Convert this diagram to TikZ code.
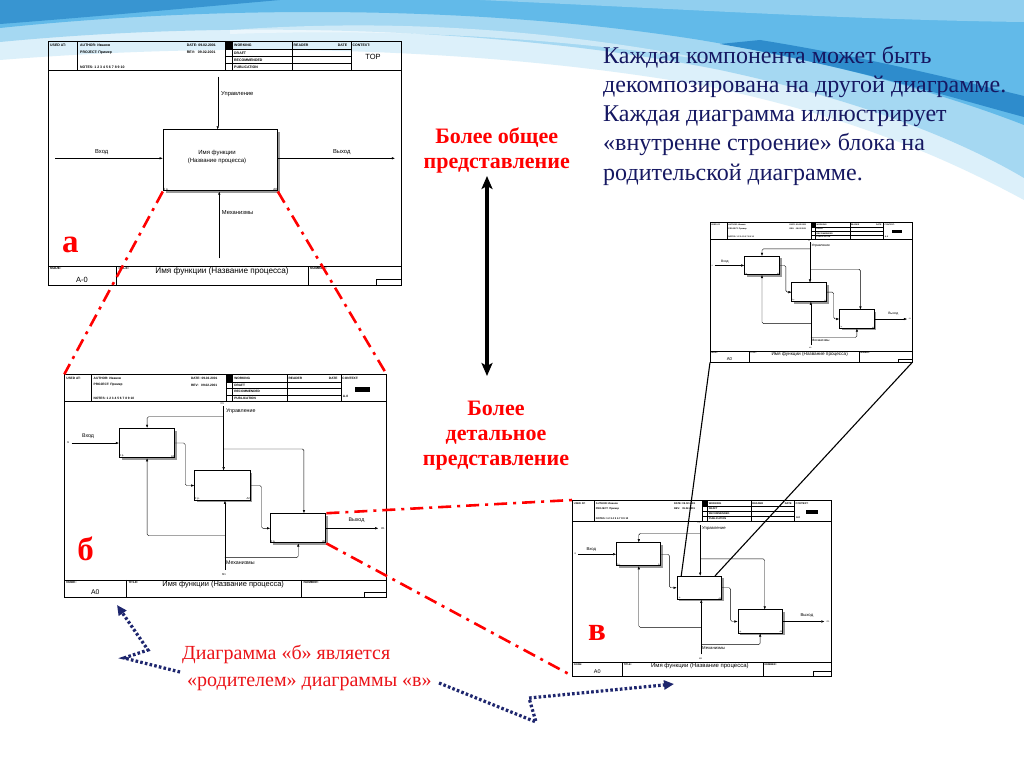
\documentclass[tikz,border=0pt]{standalone}
\usepackage{fontspec}
\setmainfont{Liberation Serif}
\setsansfont{Liberation Sans}
\usetikzlibrary{arrows.meta,shadows,calc}

\definecolor{navy}{RGB}{22,24,98}
\definecolor{dotnavy}{RGB}{30,38,110}
\definecolor{slred}{RGB}{235,20,25}
\definecolor{waveA}{RGB}{220,240,250}
\definecolor{waveB}{RGB}{165,216,242}
\definecolor{waveC}{RGB}{98,186,233}
\definecolor{waveD}{RGB}{46,140,204}

\tikzset{
  frameline/.style={line width=0.45pt},
  hdr/.style={font=\sffamily\bfseries\fontsize{3.5}{4}\selectfont, anchor=west, inner sep=0pt},
  ttl/.style={font=\sffamily\fontsize{8.2}{9}\selectfont, inner sep=0pt},
  num/.style={font=\sffamily\fontsize{7.5}{8}\selectfont, inner sep=0pt},
  lbl/.style={font=\sffamily\fontsize{5.8}{6}\selectfont, inner sep=0pt},
  tiny/.style={font=\sffamily\fontsize{3}{3}\selectfont, inner sep=0.5pt},
  fbox/.style={draw, line width=1pt, fill=white, minimum width=60.5, minimum height=32,
    drop shadow={shadow xshift=2.2pt, shadow yshift=-2.2pt, fill=black!40, opacity=1}},
  flow/.style={line width=0.4pt, rounded corners=1.5pt, -{Latex[length=3.2pt,width=2.4pt]}},
  letter/.style={text=red, font=\bfseries\fontsize{33}{33}\selectfont, inner sep=0pt, anchor=base},
  gentxt/.style={text=red, font=\bfseries\fontsize{22}{25}\selectfont, align=center, inner sep=0pt, anchor=base},
  desc/.style={text=navy, font=\fontsize{24}{29.2}\selectfont, align=left, inner sep=0pt, anchor=base west},
  parenttxt/.style={text=slred, font=\fontsize{20}{27}\selectfont, align=left, inner sep=0pt, anchor=base west},
  dashdot/.style={draw=red, line width=2.6pt, dash pattern=on 13pt off 6pt on 3pt off 6pt},
  parentarrow/.style={draw=dotnavy, line width=3.2pt, dash pattern=on 2.6pt off 2.2pt, -{Triangle[length=10pt,width=9pt]}},
  updown/.style={line width=3.6pt, {Stealth[length=13pt,width=11pt,inset=3pt]}-{Stealth[length=13pt,width=11pt,inset=3pt]}},
  zoomline/.style={line width=1.1pt}
}

% бланк IDEF0: #1 имя, #2 номер узла, #3 поле CONTEXT
\newcommand{\idefframe}[3]{%
  \draw[frameline] (0,0) rectangle (353,244);
  \draw[frameline] (0,29) -- (353,29) (0,225) -- (353,225);
  \foreach \hx in {29.7,177,184.3,244.3,303}
    \draw[frameline] (\hx,0) -- (\hx,29);
  \foreach \hy in {8.3,15.7,22.7}
    \draw[frameline] (177,\hy) -- (303,\hy);
  \fill (177,0) rectangle (184.3,8.3);
  \draw[frameline] (68,225) -- (68,244) (260,225) -- (260,244);
  \draw[frameline] (328.7,244) |- (353,238);
  \node[hdr] at (2,4.7) {USED AT:};
  \node[hdr] at (32,4.7) {AUTHOR: Иванов};
  \node[hdr] at (32,11.7) {PROJECT: Пример};
  \node[hdr] at (32,26) {NOTES: 1 2 3 4 5 6 7 8 9 10};
  \node[hdr] at (138.7,4.7) {DATE: 09.02.2001};
  \node[hdr] at (138.7,11.7) {REV: \ \ 09.02.2001};
  \node[hdr] at (186,4.7) {WORKING};
  \node[hdr] at (186,11.9) {DRAFT};
  \node[hdr] at (186,19.2) {RECOMMENDED};
  \node[hdr] at (186,26) {PUBLICATION};
  \node[hdr] at (245.5,4.7) {READER};
  \node[hdr] at (289.7,4.7) {DATE};
  \node[hdr] at (304.5,4.7) {CONTEXT:};
  \node[hdr] at (2,227.7) {NODE:};
  \node[hdr] at (70,227.7) {TITLE:};
  \node[hdr] at (262,227.7) {NUMBER:};
  #3
  \node[ttl] at (174,230.5) {Имя функции (Название процесса)};
  \node[num] at (34,238.5) {#2};
  \coordinate (#1nw) at (0,0);
  \coordinate (#1ne) at (353,0);
  \coordinate (#1sw) at (0,244);
  \coordinate (#1se) at (353,244);
}

% декомпозиция на три блока: #1 имя
\newcommand{\decomp}[1]{%
  \node[fbox] (#1b1) at (90.7,75.2) {};
  \node[fbox] (#1b2) at (173.2,121.7) {};
  \node[fbox] (#1b3) at (256.3,168.5) {};
  \foreach \bx in {1,2,3} {
    \node[tiny, anchor=south west] at (#1b\bx.south west) {0 р.};
    \node[tiny, anchor=south east] at (#1b\bx.south east) {A\bx};
  }
  % управление
  \coordinate (#1ctl) at (174.5,35);
  \coordinate (#1k1) at (174.5,46.4);
  \coordinate (#1k3) at (262.5,81.7);
  \draw[flow] (#1ctl) -- (#1ctl |- #1b2.north);
  \draw[flow] (#1k1) -| (#1b1.north);
  \draw[flow] (#1ctl |- #1k3) -| (#1k3 |- #1b3.north);
  % вход и выход
  \coordinate (#1in) at (8,75.2);
  \coordinate (#1out) at (344,168.5);
  \draw[flow] (#1in) -- (#1b1.west);
  \draw[flow] (#1b1.east) -- ++(11,0) |- (#1b2.west);
  \draw[flow] (#1b2.east) -- ++(12,0) |- (#1b3.west);
  \draw[flow] (#1b3.east) -- (#1out);
  % механизмы
  \coordinate (#1mech) at (176,214);
  \coordinate (#1m1) at (176,176.6);
  \coordinate (#1m3) at (176,200.6);
  \draw[flow] (#1mech) -- (#1mech |- #1b2.south);
  \draw[flow] (#1m1) -| (#1b1.south);
  \draw[flow] (#1m3) -| (#1b3.south);
  \node[lbl, anchor=west] at (177,40) {Управление};
  \node[lbl] at (26,68) {Вход};
  \node[lbl] at (320,160) {Выход};
  \node[lbl, anchor=west] at (177,206) {Механизмы};
  \node[tiny] at (173,32) {C1};
  \node[tiny] at (4,75.2) {I1};
  \node[tiny] at (349,168.5) {O1};
  \node[tiny] at (175,219.5) {M1};
}

\newcommand{\childctx}{%
  \fill (318.3,13.6) rectangle (334.7,19.1);
  \node[hdr] at (305,24.5) {A-0};
}

\begin{document}
\begin{tikzpicture}[x=1pt,y=-1pt]
\useasboundingbox (0,0) rectangle (1024,767);
% фон слайда
\fill[white] (0,0) rectangle (1024,767);
\fill[waveA] (0,0) -- (1024,0) -- (1024,200) .. controls (950,160) and (850,115) .. (700,85)
  .. controls (500,50) and (250,40) .. (0,60) -- cycle;
\fill[waveB] (0,0) -- (1024,0) -- (1024,178) .. controls (960,140) and (860,100) .. (720,70)
  .. controls (520,30) and (250,18) .. (0,42) -- cycle;
\fill[waveC] (0,0) -- (1024,0) -- (1024,125) .. controls (960,100) and (850,65) .. (700,40)
  .. controls (480,5) and (220,5) .. (0,28) -- cycle;
\fill[waveD] (720,44) .. controls (850,66) and (960,100) .. (1024,117) -- (1024,96)
  .. controls (950,78) and (860,56) .. (760,40) -- cycle;
\fill[waveD, opacity=.8] (0,0) -- (280,0) .. controls (190,8) and (80,18) .. (0,24) -- cycle;
\fill[waveB, opacity=.7] (480,0) -- (1024,0) -- (1024,22) .. controls (860,20) and (700,10) .. (480,0);
\fill[white, opacity=.45] (230,30) .. controls (400,18) and (560,30) .. (720,62)
  .. controls (560,38) and (400,28) .. (230,34) -- cycle;

% диаграмма а (контекстная)
\begin{scope}[shift={(48,41)}, transform shape]
  \idefframe{a}{A-0}{\node[font=\sffamily\fontsize{7.5}{8}\selectfont] at (325,15.5) {TOP};}
  \node[fbox, minimum width=114, minimum height=61] (abox) at (172.3,119.5) {};
  \node[lbl, align=center, font=\sffamily\fontsize{6}{8}\selectfont] at (169,116) {Имя функции\\(Название процесса)};
  \node[tiny, anchor=south west] at (abox.south west) {0 р.};
  \node[tiny, anchor=south east] at (abox.south east) {A0};
  \coordinate (actl) at (169.7,35.7);
  \coordinate (ain) at (7,117.3);
  \coordinate (aout) at (347,117.3);
  \coordinate (amech) at (171.3,217.3);
  \draw[flow] (actl) -- (actl |- abox.north);
  \draw[flow] (ain) -- (ain -| abox.west);
  \draw[flow] (abox.east |- aout) -- (aout);
  \draw[flow] (amech) -- (amech |- abox.south);
  \node[lbl, anchor=west] at (173,53.3) {Управление};
  \node[lbl] at (53.7,111.3) {Вход};
  \node[lbl] at (293.7,111.3) {Выход};
  \node[lbl, anchor=west] at (173.7,171.7) {Механизмы};
\end{scope}

% диаграмма б
\begin{scope}[shift={(64.3,374.3)}, xscale=.913, yscale=.914, transform shape]
  \idefframe{b}{A0}{\childctx}
  \decomp{b}
\end{scope}

% диаграмма в
\begin{scope}[shift={(572.3,500)}, xscale=.733, yscale=.721, transform shape]
  \idefframe{v}{A0}{\childctx}
  \decomp{v}
\end{scope}

% декомпозиция блока на диаграмме в
\begin{scope}[shift={(710,222.3)}, xscale=.573, yscale=.574, transform shape]
  \idefframe{s}{A0}{\childctx}
  \decomp{s}
\end{scope}

% буквы
\node[letter] (la) at (70.3,252.5) {а};
\node[letter] (lb) at (85.5,560) {б};
\node[letter] (lv) at (597,640) {в};

% связи между диаграммами
\draw[dashdot] (abox.south west) -- (bnw);
\draw[dashdot] (abox.south east) -- (bne);
\draw[dashdot] (bb3.north east) -- (vnw);
\draw[dashdot] (bb3.south east) -- (vsw);
\draw[zoomline] (ssw) -- ($(vb2.north west)!0.1!(vb2.north east)$);
\draw[zoomline] (sse) -- ($(vb2.north west)!0.85!(vb2.north east)$);

% уровни (base = последняя строка)
\node[gentxt] (gen) at (496.7,168.3) {Более общее\\представление};
\node[gentxt] (det) at (496,465) {Более\\детальное\\представление};
\coordinate (up) at (487,176);
\coordinate (dn) at (487,376);
\draw[updown] (up) -- (dn);

\node[desc] (note) at (603,180.1) {Каждая компонента может быть\\декомпозирована на другой диаграмме.\\Каждая диаграмма иллюстрирует\\«внутренне строение» блока на\\родительской диаграмме.};

\node[parenttxt] (parent) at (182,686) {Диаграмма «б» является\\\hspace{5pt}«родителем» диаграммы «в»};
\coordinate (lp1) at (180,672);
\coordinate (lp2) at (124,658);
\coordinate (lp3) at (148,650);
\coordinate (lp4) at (117,605);
\draw[parentarrow] (lp1) -- (lp2) -- (lp3) -- (lp4);
\coordinate (rp1) at (439,683);
\coordinate (rp2) at (536,722);
\coordinate (rp3) at (529,698);
\coordinate (rp4) at (674,684);
\draw[parentarrow] (rp1) -- (rp2) -- (rp3) -- (rp4);
\end{tikzpicture}
\end{document}
